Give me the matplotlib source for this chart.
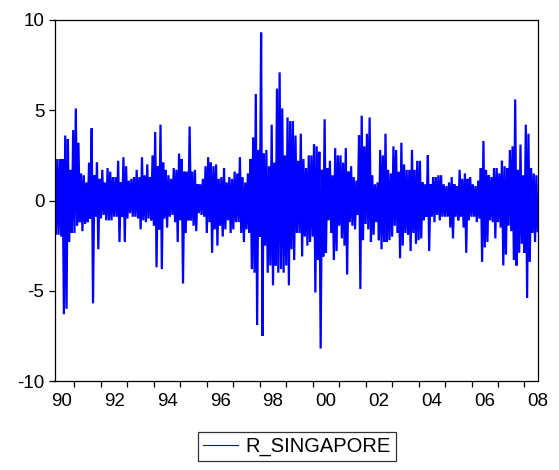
import numpy as np
import matplotlib
matplotlib.use("Agg")
import matplotlib.pyplot as plt
from matplotlib.lines import Line2D

plt.rcParams['font.family'] = ['Liberation Sans', 'DejaVu Sans']
plt.rcParams['axes.unicode_minus'] = False

# R_SINGAPORE: highs and lows every 0.1 year from 1990.25
start = 1990.25
step = 0.1

upper = [2.6, 2.3, 2.3, 2.3, 3.6, 3.4, 1.7, 3.9, 5.1, 3.2,
         1.5, 1.4, 1.0, 2.1, 4.0, 1.4, 2.1, 1.2, 1.7, 1.0,
         1.8, 1.6, 1.3, 1.3, 2.2, 1.0, 2.4, 1.9, 1.1, 1.2,
         1.3, 1.7, 1.3, 2.4, 1.4, 2.0, 1.3, 2.5, 3.8, 1.9,
         4.2, 2.1, 1.7, 1.4, 1.2, 1.8,
         1.7, 2.6, 2.3, 1.6,
         1.6, 4.1, 1.6, 1.7, 0.9, 0.9, 1.2, 1.9, 2.4, 2.1,
         1.9, 2.0, 1.2, 1.3, 1.8, 1.0, 1.3, 1.2, 1.6, 1.5,
         2.4, 1.3, 1.0, 1.5, 2.3, 3.5, 5.9, 2.8, 9.3, 2.6,
         2.8, 1.9, 4.2, 2.1, 6.2, 7.1, 5.1, 2.5, 4.6, 4.4,
         4.4, 3.6, 2.2,
         3.7, 2.3, 1.8, 2.5, 2.5, 3.1, 3.0,
         2.7, 1.7, 4.5, 1.8, 2.2, 1.4, 2.9, 2.5, 2.5, 2.1,
         2.9, 1.6, 1.9, 1.3, 1.1, 3.6, 4.7, 3.0, 3.7, 4.6,
         1.4, 0.9, 1.0, 2.8, 2.5, 3.7, 1.7, 1.5, 3.0, 2.8,
         1.6, 3.2, 2.0, 1.7, 1.7, 2.8, 1.7, 2.2, 2.2,
         1.0, 0.9, 2.5, 0.9, 1.3, 1.3, 1.4, 1.4, 0.9, 0.8, 1.0,
         1.3, 0.9, 0.8, 1.7, 1.2, 1.5, 1.2, 1.3, 0.9, 0.8,
         1.1, 1.8, 3.3, 1.7, 1.4, 1.3, 1.8, 1.8, 1.5, 2.2,
         1.9, 1.8, 2.8, 3.0, 5.6, 1.7, 3.1, 1.4, 4.2, 3.7,
         1.8, 1.5, 1.4]

lower = [-1.9, -1.9, -2.0, -6.3, -6.0, -2.3, -1.8, -1.8, -1.4, -1.2,
         -1.7, -1.3, -1.2, -1.0, -5.7, -0.9, -2.7, -1.0, -0.8, -1.1,
         -1.1, -1.1, -0.9, -0.9, -2.3, -0.9, -2.3, -1.0, -0.7, -0.9,
         -0.9, -1.0, -1.6, -1.1, -1.2, -1.0, -1.1, -1.4, -3.7, -1.6,
         -3.8, -1.0, -1.5, -0.9, -0.8, -1.2,
         -2.3, -1.1, -4.6, -1.8,
         -1.1, -1.1, -1.4, -1.7, -0.7, -0.8, -0.9, -1.8, -1.2, -2.9,
         -1.6, -2.5, -1.4, -2.0, -1.6, -1.1, -1.8, -1.6, -1.2, -1.2,
         -1.8, -2.3, -1.6, -1.8, -3.8, -4.0, -6.9, -2.0, -7.5, -2.5,
         -4.0, -3.6, -4.7, -3.6, -4.0, -3.8, -4.0, -3.6, -4.7, -2.7,
         -3.3, -1.8, -1.8,
         -3.1, -2.0, -2.5, -2.3, -2.0, -5.1, -3.3,
         -8.2, -3.1, -2.9, -1.1, -1.8, -3.3, -2.8, -1.4, -2.1, -2.5,
         -4.1, -1.2, -1.4, -1.6, -0.8, -4.9, -2.2, -1.3, -1.6, -2.3,
         -1.9, -1.2, -2.2, -2.7, -2.3, -2.3, -2.2, -2.0, -1.4, -1.8,
         -3.2, -2.5, -1.8, -1.9, -2.8, -1.8, -2.4, -2.2, -2.1,
         -1.1, -0.9, -2.8, -0.9, -1.2, -0.8, -1.1, -0.9, -0.9, -0.9, -1.5,
         -2.1, -0.9, -1.1, -0.9, -1.5, -2.9, -1.1, -0.9, -0.9, -1.2,
         -1.0, -3.4, -2.6, -2.3, -1.1, -1.2, -2.1, -1.2, -1.5, -3.6,
         -3.0, -1.4, -1.7, -3.3, -3.6, -2.9, -2.4, -2.9, -5.4, -3.4,
         -1.8, -2.3, -1.7]

years = list(range(1990, 2009))
year_labels = ["%02d" % (y % 100) for y in years if y % 2 == 0]

# alternate high / low so the line fills the band like the daily series
t_up = start + step * np.arange(len(upper))
t_lo = t_up + step / 2
x = np.column_stack([t_up, t_lo]).ravel()
y = np.column_stack([upper, lower]).ravel()

fig = plt.figure(figsize=(5.59, 4.70), dpi=100)
ax = fig.add_axes([54.5 / 559, 89 / 470, 483.2 / 559, 361 / 470])

ax.plot(x, y, color="#0000ff", lw=1.6, solid_joinstyle="miter", label="R_SINGAPORE")

ax.set_xlim(1990.245, 2008.47)
ax.set_ylim(-10, 10)
ax.set_yticks([-10, -5, 0, 5, 10])

# tick marks at year boundaries, labels centred on the even years
ax.set_xticks(years[1:])
ax.set_xticklabels([])
ax.set_xticks([y + 0.5 for y in years if y % 2 == 0], minor=True)
ax.set_xticklabels(year_labels, minor=True)
ax.tick_params(axis="x", which="major", direction="out", length=4.3, width=0.9)
ax.tick_params(axis="x", which="minor", length=0, pad=8.5, labelsize=13.5)
ax.tick_params(axis="y", direction="out", length=4.3, width=0.9, pad=3, labelsize=13.5)

for s in ax.spines.values():
    s.set_linewidth(0.9)

h = Line2D([], [], color="#0000ff", lw=0.8)
leg = fig.legend([h], ["R_SINGAPORE"], loc="center",
                 bbox_to_anchor=(296.7 / 559, 1 - 446.7 / 470),
                 fontsize=14.5, frameon=True, fancybox=False, shadow=False,
                 handlelength=1.75, handletextpad=0.35, borderpad=0.25)
leg.get_frame().set_edgecolor("black")
leg.get_frame().set_linewidth(0.9)

fig.savefig("out.png", dpi=100)
